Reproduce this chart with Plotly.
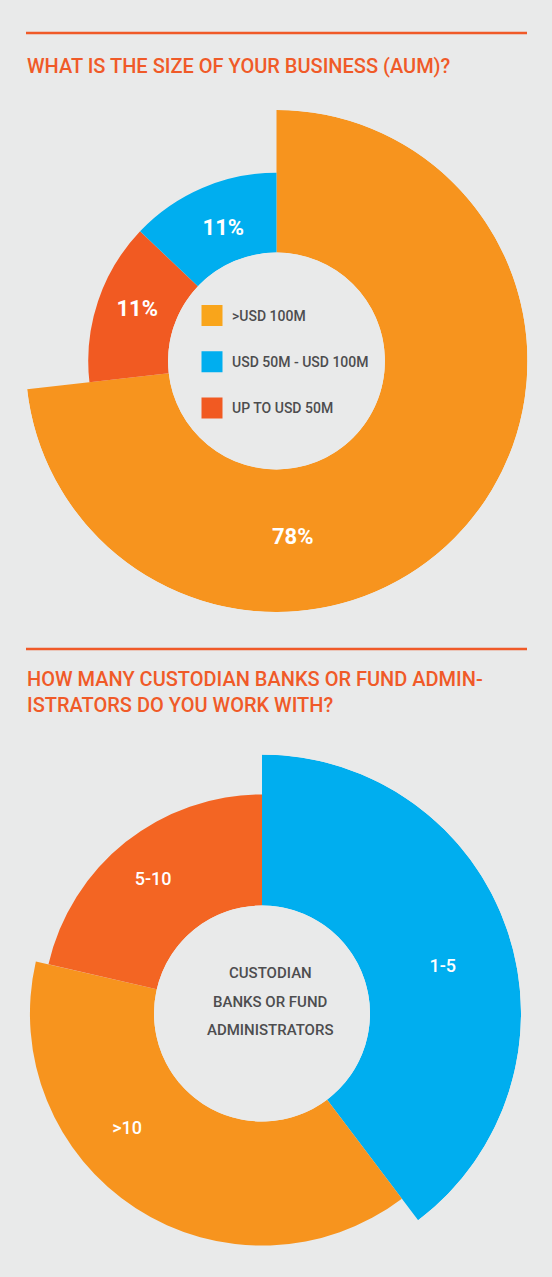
import plotly.graph_objects as go

W, H = 552, 1277

# chart 1: size of business (AUM), slices clockwise from 12 o'clock
aum_names = [">USD 100M", "UP TO USD 50M", "USD 50M - USD 100M"]
aum_share = [73.2, 13.9, 12.9]          # share of the circle as drawn
aum_labels = ["78%", "11%", "11%"]
aum_legend = [">USD 100M", "USD 50M - USD 100M", "UP TO USD 50M"]

# chart 2: number of custodian banks / fund administrators
cust_names = ["1-5", ">10", "5-10"]
cust_share = [39.7, 38.9, 21.4]
cust_center = ["CUSTODIAN", "BANKS OR FUND", "ADMINISTRATORS"]

titles = ["WHAT IS THE SIZE OF YOUR BUSINESS (AUM)?",
          "HOW MANY CUSTODIAN BANKS OR FUND ADMIN-<br>ISTRATORS DO YOU WORK WITH?"]

# styling
BG = "#E9EAEA"
ORANGE, BLUE, RED, RED2 = "#F7941E", "#00AEEF", "#F15A22", "#F36523"
TITLE_C = "#F05A28"
TEXT_C = "#4D4D4F"
FONT = "Roboto"

aum_colors = {">USD 100M": ORANGE, "UP TO USD 50M": RED, "USD 50M - USD 100M": BLUE}
legend_colors = {">USD 100M": "#F9A51B", "UP TO USD 50M": RED, "USD 50M - USD 100M": BLUE}
cust_colors = {"1-5": BLUE, ">10": ORANGE, "5-10": RED2}

aum_outer = [1.0, 0.75, 0.75]           # relative outer radius of each slice
aum_hole = 0.432
cust_outer = [1.0, 0.896, 0.846]
cust_hole = 0.417

# label placement (angle in degrees clockwise from top, relative radius)
aum_label_pos = [(174.8, 0.71), (289.8, 0.59), (338.0, 0.566)]
cust_label_pos = [(75.7, 0.72), (229.3, 0.687), (320.7, 0.664)]


def px_x(v):
    return v / W


def px_y(v):
    return 1 - v / H


def centers(share):
    out, acc = [], 0
    for s in share:
        out.append((acc + s / 2) * 3.6)
        acc += s
    return out


fig = go.Figure()

# --- chart 1 ---
fig.add_trace(go.Barpolar(
    r=[o - aum_hole for o in aum_outer],
    base=aum_hole,
    theta=centers(aum_share),
    width=[s * 3.6 for s in aum_share],
    marker=dict(color=[aum_colors[n] for n in aum_names], line=dict(width=0)),
    subplot="polar", showlegend=False, hoverinfo="skip",
))
fig.add_trace(go.Scatterpolar(
    r=[p[1] for p in aum_label_pos],
    theta=[p[0] for p in aum_label_pos],
    mode="text", text=aum_labels,
    textfont=dict(color="white", size=22, family=FONT, weight="bold"),
    subplot="polar", showlegend=False, hoverinfo="skip",
))
for name in aum_legend:
    c = legend_colors[name]
    fig.add_trace(go.Scatterpolar(
        r=[None], theta=[None], mode="markers", name=name, legendgroup=name,
        marker=dict(symbol="square", size=16, color=c, line=dict(color=c, width=5)),
        subplot="polar",
    ))

# --- chart 2 ---
fig.add_trace(go.Barpolar(
    r=[o - cust_hole for o in cust_outer],
    base=cust_hole,
    theta=centers(cust_share),
    width=[s * 3.6 for s in cust_share],
    marker=dict(color=[cust_colors[n] for n in cust_names], line=dict(width=0)),
    subplot="polar2", showlegend=False, hoverinfo="skip",
))
fig.add_trace(go.Scatterpolar(
    r=[p[1] for p in cust_label_pos],
    theta=[p[0] for p in cust_label_pos],
    mode="text", text=cust_names,
    textfont=dict(color="white", size=18, family=FONT, weight=500),
    subplot="polar2", showlegend=False, hoverinfo="skip",
))

polar_common = dict(
    bgcolor="rgba(0,0,0,0)",
    angularaxis=dict(rotation=90, direction="clockwise", visible=False),
)

annotations = [
    dict(text=titles[0], x=px_x(25), y=px_y(66), xref="paper", yref="paper",
         xanchor="left", yanchor="middle", showarrow=False, align="left",
         font=dict(family=FONT, size=20, color=TITLE_C, weight=500)),
    dict(text=titles[1], x=px_x(25), y=px_y(692), xref="paper", yref="paper",
         xanchor="left", yanchor="middle", showarrow=False, align="left",
         font=dict(family=FONT, size=20, color=TITLE_C, weight=500)),
]
for i, line in enumerate(cust_center):
    annotations.append(dict(
        text=line, x=px_x(270), y=px_y(973 + 28.5 * i), xref="paper", yref="paper",
        xanchor="center", yanchor="middle", showarrow=False,
        font=dict(family=FONT, size=15, color=TEXT_C, weight=500),
    ))

shapes = [
    dict(type="line", xref="paper", yref="paper", x0=px_x(26), x1=px_x(527),
         y0=px_y(33), y1=px_y(33), line=dict(color=TITLE_C, width=2.5)),
    dict(type="line", xref="paper", yref="paper", x0=px_x(26), x1=px_x(527),
         y0=px_y(649), y1=px_y(649), line=dict(color=TITLE_C, width=2.5)),
]

fig.update_layout(
    width=W, height=H,
    margin=dict(l=0, r=0, t=0, b=0),
    paper_bgcolor=BG, plot_bgcolor=BG,
    polar=dict(domain=dict(x=[px_x(25.5), px_x(527.5)], y=[px_y(612), px_y(110)]),
               hole=aum_hole,
               radialaxis=dict(range=[aum_hole, 1], visible=False),
               **polar_common),
    polar2=dict(domain=dict(x=[px_x(3), px_x(521)], y=[px_y(1272.5), px_y(754.5)]),
                hole=cust_hole,
                radialaxis=dict(range=[cust_hole, 1], visible=False),
                **polar_common),
    legend=dict(x=px_x(192), y=px_y(300), xanchor="left", yanchor="top",
                bgcolor="rgba(0,0,0,0)", tracegroupgap=25,
                font=dict(family=FONT, size=14, color=TEXT_C, weight=500)),
    annotations=annotations,
    shapes=shapes,
)

fig.write_html(
    "out.html",
    config={"displayModeBar": False},
    post_script="document.body.style.margin='0px';document.body.style.background='%s';" % BG,
)
